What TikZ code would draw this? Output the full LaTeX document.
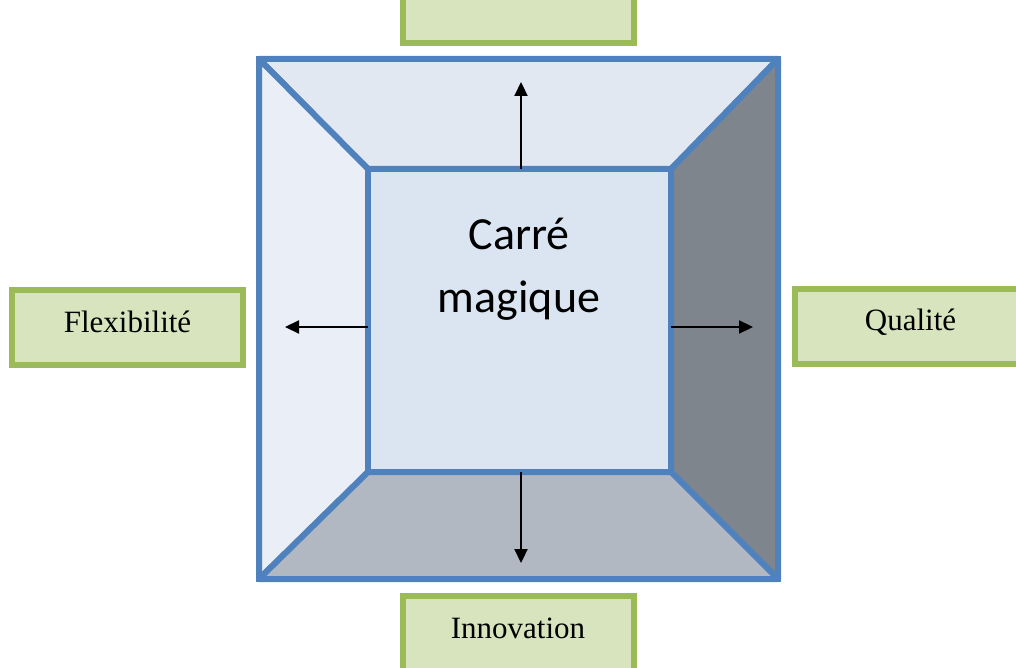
\documentclass[tikz,border=0pt]{standalone}
\usepackage{fontspec}
\setmainfont{Liberation Serif}
\newfontfamily\titlefont{Carlito}
\usetikzlibrary{arrows.meta}
\definecolor{edgeblue}{HTML}{4F81BD}
\definecolor{facetop}{HTML}{E1E8F2}
\definecolor{faceleft}{HTML}{E9EEF7}
\definecolor{facefront}{HTML}{DBE5F1}
\definecolor{faceright}{HTML}{7F858D}
\definecolor{facebottom}{HTML}{B1B8C1}
\definecolor{boxgreen}{HTML}{9BBB59}
\definecolor{boxfill}{HTML}{D7E4BD}
\begin{document}
\begin{tikzpicture}[x=1pt,y=-1pt,
  labelbox/.style={draw=boxgreen, fill=boxfill, line width=6pt,
    minimum width=231pt, minimum height=75pt, inner sep=0pt, outer sep=0pt,
    text height=20pt, text depth=11pt,
    font=\fontsize{31}{37}\selectfont},
  face/.style={draw=edgeblue, line width=6pt, line join=round},
  push/.style={line width=2.2pt, -{Triangle[length=14pt,width=13pt]}}]
\useasboundingbox (0,0) rectangle (1016,668);
\clip (0,0) rectangle (1016,668);

% corners of the outer frame and of the front square
\coordinate (o1) at (259,59);
\coordinate (o2) at (778,59);
\coordinate (o3) at (778,579);
\coordinate (o4) at (259,579);
\coordinate (i1) at (368,169);
\coordinate (i2) at (671,169);
\coordinate (i3) at (671,472);
\coordinate (i4) at (368,472);

% bevelled faces
\filldraw[face, fill=facetop] (o1) -- (o2) -- (i2) -- (i1) -- cycle;
\filldraw[face, fill=faceleft] (o1) -- (i1) -- (i4) -- (o4) -- cycle;
\filldraw[face, fill=faceright] (o2) -- (o3) -- (i3) -- (i2) -- cycle;
\filldraw[face, fill=facebottom] (o4) -- (i4) -- (i3) -- (o3) -- cycle;
% square outer frame
\draw[draw=edgeblue, line width=6pt, line join=miter] (o1) rectangle (o3);

% front square
\node[face, fill=facefront, line join=miter, minimum width=303pt,
  minimum height=303pt, inner sep=0pt, outer sep=0pt]
  (front) at (519.5,320.5) {};
\node[font=\titlefont\fontsize{46}{63}\selectfont, align=center, anchor=base]
  (title) at (519,312) {Carré\\magique};

% outside labels
\node[labelbox] (top) at (518.5,5.5) {};
\node[labelbox] (flex) at (127.5,327.5) {Flexibilité};
\node[labelbox] (qual) at (910.5,326) {Qualité};
\node[labelbox] (innov) at (518,633.5) {Innovation};

% arrow tips
\coordinate (upTip) at (521,82);
\coordinate (downTip) at (521,563);
\coordinate (leftTip) at (285,327);
\coordinate (rightTip) at (753,327);

\draw[push] (front.north -| upTip) -- (upTip);
\draw[push] (front.south -| downTip) -- (downTip);
\draw[push] (front.west |- leftTip) -- (leftTip);
\draw[push] (front.east |- rightTip) -- (rightTip);
\end{tikzpicture}
\end{document}
